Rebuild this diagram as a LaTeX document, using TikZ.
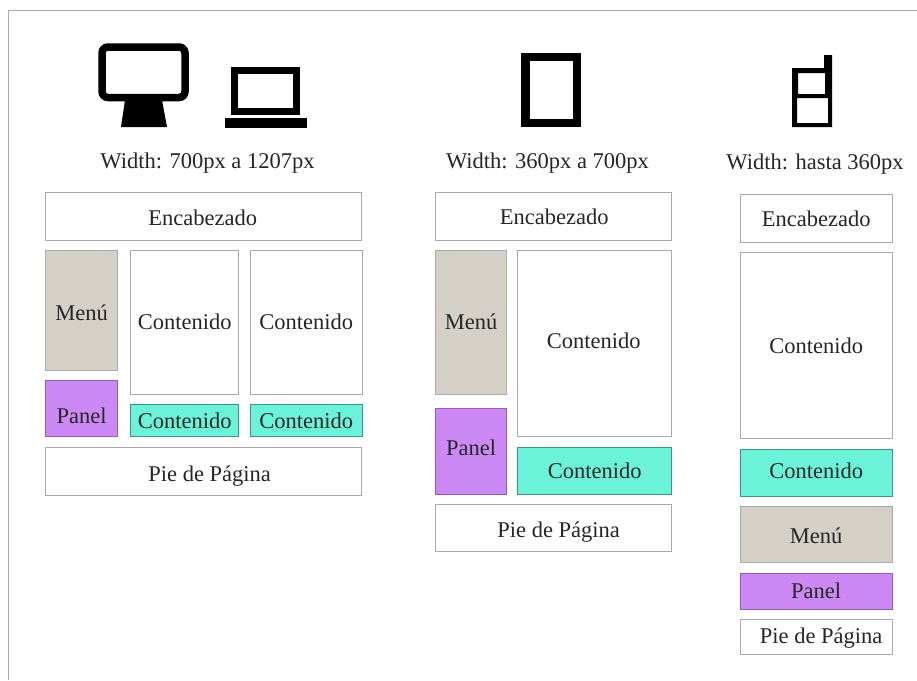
\documentclass[tikz,border=0pt]{standalone}
\usepackage{fontspec}
\setmainfont{Liberation Serif}
\definecolor{marco}{RGB}{170,170,170}
\definecolor{gris}{RGB}{212,208,200}
\definecolor{lila}{RGB}{204,136,245}
\definecolor{turquesa}{RGB}{107,243,218}
\tikzset{
    caja/.style={draw=marco, line width=1.1pt, fill=white, anchor=north west, inner sep=0pt, xshift=-.4pt},
    menu/.style={caja, fill=gris},
    panel/.style={caja, draw=lila!70!black, fill=lila},
    cont/.style={caja, draw=turquesa!60!black, fill=turquesa},
    rotulo/.style n args={3}{label={[shift={(#1,#2)}]center:#3}},
    titulo/.style={inner sep=0pt}
}
\begin{document}
\begin{tikzpicture}[x=1pt, y=-1pt, font=\fontsize{22.5}{26}\selectfont\color{black!85}]
    \useasboundingbox (0,0) rectangle (917,680);
    \fill[white] (0,0) rectangle (917,680);
    \draw[marco, line width=1.2pt] (917,10.5) -- (8.5,10.5) -- (8.5,680);

    % iconos
    \draw[black, line width=7.5pt, fill=white, rounded corners=6pt] (102,47) rectangle (185,97.5);
    \fill[black] (125,100) -- (162,100) -- (167,127) -- (121,127) -- cycle;
    \draw[black, line width=7pt, fill=white] (234.5,70.5) rectangle (296.5,111);
    \fill[black] (225,118) rectangle (307,128);
    \draw[black, line width=8.5pt, fill=white] (525.5,57) rectangle (577,123);
    \fill[black, even odd rule] (824,55) -- (832,55) -- (832,127) -- (792,127) -- (792,68) -- (824,68) -- cycle
        (798,73) rectangle (825,94) (797,98) rectangle (828,123);

    % columna ancha
    \node[titulo] (tit1) at (207.5,163) {Width: 700px a 1207px};
    \node[caja, rotulo={-1}{1}{Encabezado}, minimum width=316pt, minimum height=48pt] (enc1) at (45.5,192) {};
    \node[menu, rotulo={0}{2.5}{Menú}, minimum width=72pt, minimum height=120pt] (menu1) at (45.5,250) {};
    \node[panel, rotulo={0}{7.5}{Panel}, minimum width=72pt, minimum height=56pt] (panel1) at (45.5,380) {};
    \node[caja, rotulo={0}{-.5}{Contenido}, minimum width=108pt, minimum height=144pt] (cont1a) at (130.5,250) {};
    \node[caja, rotulo={0}{-.5}{Contenido}, minimum width=112pt, minimum height=144pt] (cont1b) at (250,250) {};
    \node[cont, rotulo={0}{.5}{Contenido}, minimum width=108pt, minimum height=32pt] (cont1c) at (130.5,404) {};
    \node[cont, rotulo={0}{.5}{Contenido}, minimum width=112pt, minimum height=32pt] (cont1d) at (250,404) {};
    \node[caja, rotulo={6}{5.5}{Pie de Página}, minimum width=316pt, minimum height=48pt] (pie1) at (45.5,446.5) {};

    % columna media
    \node[titulo] (tit2) at (547.5,163) {Width: 360px a 700px};
    \node[caja, rotulo={.5}{.5}{Encabezado}, minimum width=236pt, minimum height=48pt] (enc2) at (435.5,192) {};
    \node[menu, rotulo={0}{-.5}{Menú}, minimum width=71pt, minimum height=144pt] (menu2) at (435.5,250) {};
    \node[panel, rotulo={0}{-3.5}{Panel}, minimum width=71pt, minimum height=86pt] (panel2) at (435.5,408) {};
    \node[caja, rotulo={-1}{-2.5}{Contenido}, minimum width=154pt, minimum height=186pt] (cont2a) at (517.5,250) {};
    \node[cont, rotulo={0}{0}{Contenido}, minimum width=154pt, minimum height=47pt] (cont2b) at (517.5,446.5) {};
    \node[caja, rotulo={5}{4.5}{Pie de Página}, minimum width=236pt, minimum height=47pt] (pie2) at (435.5,504) {};

    % columna angosta
    \node[titulo] (tit3) at (815,164) {Width: hasta 360px};
    \node[caja, rotulo={0}{0}{Encabezado}, minimum width=152pt, minimum height=48pt] (enc3) at (740,194) {};
    \node[caja, rotulo={0}{.5}{Contenido}, minimum width=152pt, minimum height=186pt] (cont3a) at (740,252) {};
    \node[cont, rotulo={0}{-1.5}{Contenido}, minimum width=152pt, minimum height=47pt] (cont3b) at (740,448.5) {};
    \node[menu, rotulo={0}{1.5}{Menú}, minimum width=152pt, minimum height=56pt] (menu3) at (740,506) {};
    \node[panel, rotulo={0}{-.5}{Panel}, minimum width=152pt, minimum height=36pt] (panel3) at (740,573) {};
    \node[caja, rotulo={5}{1.5}{Pie de Página}, minimum width=152pt, minimum height=35pt] (pie3) at (740,619) {};
\end{tikzpicture}
\end{document}
